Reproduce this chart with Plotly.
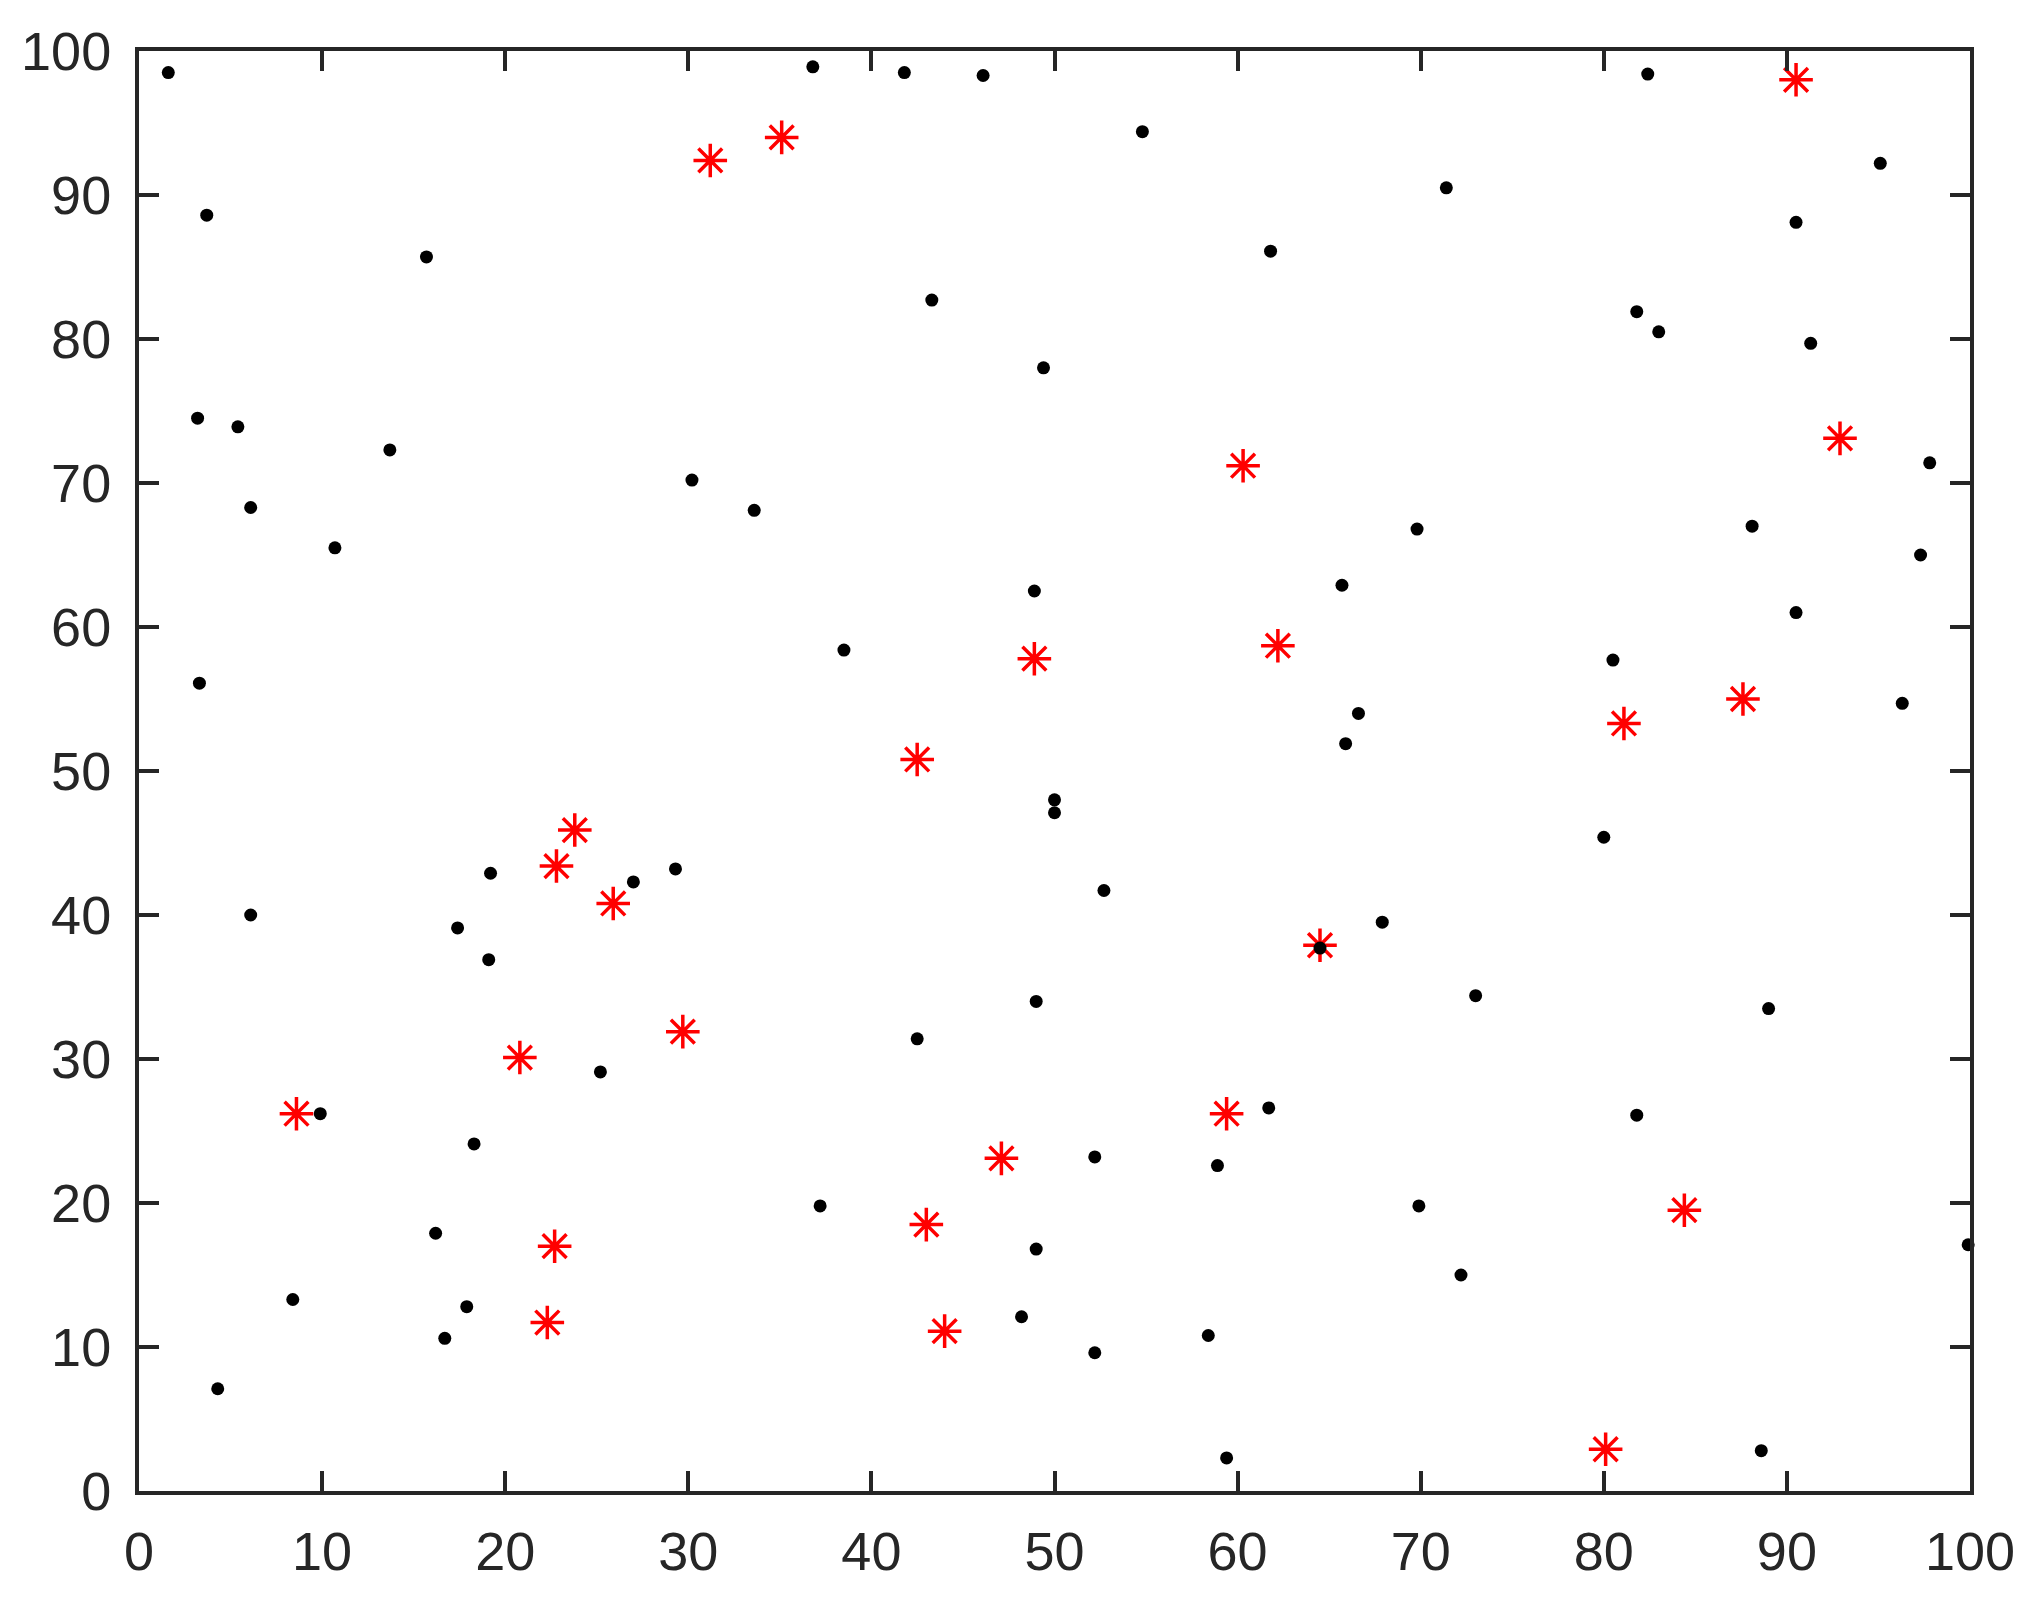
import plotly.graph_objects as go

# Black dots
dot_x = [1.6, 3.7, 3.2, 5.4, 6.1, 3.3, 6.1, 9.9, 8.4, 4.3, 10.7, 13.7, 15.7, 19.2, 17.4, 19.1, 18.3, 16.2,
         17.9, 16.7, 25.2, 27.0, 29.3, 30.2, 33.6, 36.8, 38.5, 37.2, 41.8, 46.1, 43.3, 42.5, 48.9, 49.4,
         50.0, 50.0, 52.7, 49.0, 52.2, 49.0, 48.2, 52.2, 54.8, 61.8, 58.9, 61.7, 58.4, 59.4, 65.7, 66.6,
         65.9, 64.5, 67.9, 69.8, 71.4, 73.0, 69.9, 72.2, 80.5, 80.0, 81.8, 83.0, 82.4, 81.8, 90.5, 91.3,
         95.1, 97.8, 97.3, 88.1, 90.5, 96.3, 89.0, 88.6, 99.9]
dot_y = [98.5, 88.6, 74.5, 73.9, 68.3, 56.1, 40.0, 26.2, 13.3, 7.1, 65.5, 72.3, 85.7, 42.9, 39.1, 36.9, 24.1, 17.9,
         12.8, 10.6, 29.1, 42.3, 43.2, 70.2, 68.1, 98.9, 58.4, 19.8, 98.5, 98.3, 82.7, 31.4, 62.5, 78.0,
         48.0, 47.1, 41.7, 34.0, 23.2, 16.8, 12.1, 9.6, 94.4, 86.1, 22.6, 26.6, 10.8, 2.3, 62.9, 54.0,
         51.9, 37.7, 39.5, 66.8, 90.5, 34.4, 19.8, 15.0, 57.7, 45.4, 81.9, 80.5, 98.4, 26.1, 88.1, 79.7,
         92.2, 71.4, 65.0, 67.0, 61.0, 54.7, 33.5, 2.8, 17.1]

# Red stars
star_x = [90.5, 92.9, 87.6, 81.1, 84.4, 80.1, 60.3, 62.2, 64.5, 59.4, 48.9, 42.5, 47.1, 43.0, 44.0,
          31.2, 35.1, 29.7, 23.8, 22.8, 25.9, 20.8, 22.7, 22.3, 8.6]
star_y = [98.0, 73.1, 55.0, 53.3, 19.5, 2.9, 71.2, 58.7, 37.9, 26.2, 57.8, 50.8, 23.1, 18.5, 11.1,
          92.4, 94.0, 31.9, 45.9, 43.4, 40.8, 30.1, 17.0, 11.7, 26.2]

tick_vals = [0, 10, 20, 30, 40, 50, 60, 70, 80, 90, 100]

fig = go.Figure()
fig.add_trace(go.Scatter(x=star_x, y=star_y, mode="markers",
                         marker=dict(symbol="asterisk-open", size=28, color="#ff0000",
                                     line=dict(color="#ff0000", width=3.5)),
                         cliponaxis=False, showlegend=False))
fig.add_trace(go.Scatter(x=dot_x, y=dot_y, mode="markers",
                         marker=dict(symbol="circle", size=13, color="#000000", line=dict(width=0)),
                         cliponaxis=False, showlegend=False))

axis_common = dict(range=[0, 100], tickvals=tick_vals, ticktext=[str(v) for v in tick_vals],
                   showgrid=False, zeroline=False, showline=True, mirror="allticks",
                   linecolor="#262626", linewidth=4, ticks="inside", ticklen=20, tickwidth=4,
                   tickcolor="#262626", tickfont=dict(family="Liberation Sans, Arial", size=54, color="#262626"))

fig.update_xaxes(ticklabelstandoff=10, **axis_common)
fig.update_yaxes(ticklabelstandoff=13, **axis_common)

fig.update_layout(width=2033, height=1604,
                  margin=dict(l=131, r=71, t=43, b=121),
                  plot_bgcolor="white", paper_bgcolor="white")

fig.write_html("out.html")
